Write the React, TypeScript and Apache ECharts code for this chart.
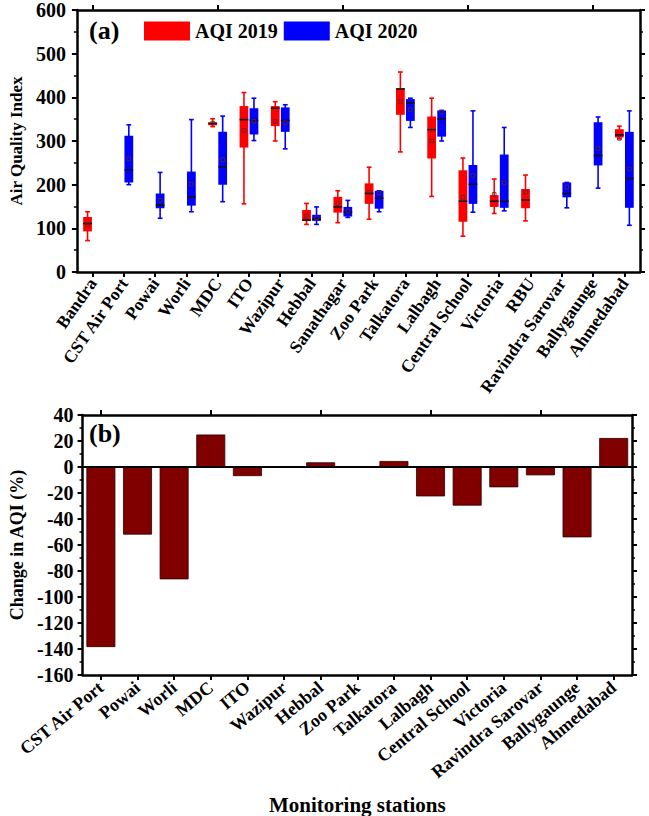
import React, { useEffect, useRef } from "react";
import * as echarts from "echarts";

const stations = [
  "Bandra", "CST Air Port", "Powai", "Worli", "MDC", "ITO", "Wazipur", "Hebbal",
  "Sanathagar", "Zoo Park", "Talkatora", "Lalbagh", "Central School", "Victoria",
  "RBU", "Ravindra Sarovar", "Ballygaunge", "Ahmedabad",
];

// [min, q1, median, q3, max, mean]; null = no data
const aqi2019: (number[] | null)[] = [
  [72, 93, 111, 126, 138, 108],
  null,
  null,
  null,
  [333, 336, 340, 343, 351, 341],
  [156, 285, 349, 380, 411, 324],
  [300, 334, 375, 380, 390, 345],
  [109, 117, 119, 142, 157, 128],
  [113, 136, 149, 172, 186, 156],
  [121, 156, 180, 203, 240, 182],
  [275, 360, 419, 421, 458, 390],
  [173, 260, 326, 356, 398, 300],
  [82, 115, 162, 233, 261, 171],
  [134, 149, 162, 176, 213, 178],
  [117, 146, 165, 190, 222, 183],
  null,
  null,
  [305, 308, 314, 327, 334, 306],
];

const aqi2020: (number[] | null)[] = [
  null,
  [200, 205, 234, 312, 337, 259],
  [123, 146, 153, 180, 228, 164],
  [138, 152, 172, 230, 349, 201],
  [161, 200, 241, 321, 357, 257],
  [301, 315, 347, 375, 398, 345],
  [282, 321, 347, 377, 383, 342],
  [109, 117, 121, 131, 149, 124],
  [125, 127, 137, 149, 164, 140],
  [138, 145, 169, 186, 186, 181],
  [331, 346, 387, 396, 398, 372],
  [300, 310, 351, 370, 370, 366],
  [137, 156, 201, 245, 369, 221],
  [140, 147, 162, 269, 331, 204],
  null,
  [147, 171, 180, 205, 205, 195],
  [192, 244, 267, 343, 355, 283],
  [107, 147, 214, 321, 369, 236],
];

const changeStations = [
  "CST Air Port", "Powai", "Worli", "MDC", "ITO", "Wazipur", "Hebbal", "Zoo Park",
  "Talkatora", "Lalbagh", "Central School", "Victoria", "Ravindra Sarovar",
  "Ballygaunge", "Ahmedabad",
];
const changeValues = [-138.5, -52, -86.4, 25, -7, 0, 3.6, 0, 4.6, -22.6, -29.7, -15.6, -6.4, -54.1, 22.3];

const aqiTicks = { min: 0, max: 600, interval: 100 };
const changeTicks = { min: -160, max: 40, interval: 20 };

const FONT = "'Liberation Serif', 'Times New Roman', serif";

function toItems(arr: (number[] | null)[]) {
  const out: number[][] = [];
  arr.forEach((v, i) => {
    if (v) out.push([i, ...v]);
  });
  return out;
}

function makeRender(color: string, side: number) {
  return (params: any, api: any) => {
    const x = api.value(0);
    const v = [1, 2, 3, 4, 5, 6].map((i) => api.value(i));
    const band = api.size([1, 0])[0];
    const w = band * 0.28;
    const off = side * band * 0.16;
    const y = (val: number) => api.coord([x, val])[1];
    const cx = api.coord([x, v[0]])[0] + off;
    const yMin = y(v[0]);
    const yQ1 = y(v[1]);
    const yMed = y(v[2]);
    const yQ3 = y(v[3]);
    const yMax = y(v[4]);
    const yMean = y(v[5]);
    const cap = w * 0.55;
    return {
      type: "group",
      children: [
        { type: "line", shape: { x1: cx, y1: yMin, x2: cx, y2: yMax }, style: { stroke: color, lineWidth: 1.6 } },
        { type: "line", shape: { x1: cx - cap / 2, y1: yMax, x2: cx + cap / 2, y2: yMax }, style: { stroke: color, lineWidth: 1.6 } },
        { type: "line", shape: { x1: cx - cap / 2, y1: yMin, x2: cx + cap / 2, y2: yMin }, style: { stroke: color, lineWidth: 1.6 } },
        { type: "rect", shape: { x: cx - w / 2, y: yQ3, width: w, height: Math.max(yQ1 - yQ3, 1) }, style: { fill: color } },
        { type: "line", shape: { x1: cx - w / 2, y1: yMed, x2: cx + w / 2, y2: yMed }, style: { stroke: "#111", lineWidth: 1.6 } },
        { type: "rect", shape: { x: cx - 1.8, y: yMean - 1.8, width: 3.6, height: 3.6 }, style: { fill: "none", stroke: "#5a2a2a", lineWidth: 0.8 } },
      ],
    };
  };
}

const axisLineStyle = (w: number) => ({ show: true, onZero: false, lineStyle: { color: "#000", width: w } });
const tickStyle = (w: number, len: number) => ({ show: true, alignWithLabel: true, length: len, lineStyle: { color: "#000", width: w } });

export default function App() {
  const ref = useRef<HTMLDivElement>(null);
  useEffect(() => {
    if (!ref.current) return;
    const chart = echarts.init(ref.current, null, { renderer: "svg" });
    const option: any = {
      animation: false,
      backgroundColor: "#fff",
      textStyle: { fontFamily: FONT },
      grid: [
        { left: 65, top: 7, width: 575, height: 265 },
        { left: 81, top: 415, width: 551, height: 260 },
      ],
      legend: {
        left: 144,
        top: 21,
        padding: 0,
        itemWidth: 46,
        itemHeight: 19,
        itemGap: 6,
        data: [
          { name: "AQI 2019", icon: "rect" },
          { name: "AQI 2020", icon: "rect" },
        ],
        textStyle: { fontFamily: FONT, fontWeight: "bold", fontSize: 20, color: "#000" },
      },
      graphic: [
        { type: "text", left: 89, top: 17, style: { text: "(a)", font: `bold 26px ${FONT}`, fill: "#000" } },
        { type: "text", left: 89, top: 420, style: { text: "(b)", font: `bold 26px ${FONT}`, fill: "#000" } },
      ],
      xAxis: [
        {
          type: "category",
          gridIndex: 0,
          data: stations,
          position: "bottom",
          axisLine: axisLineStyle(2.5),
          axisTick: tickStyle(2, 5),
          axisLabel: { rotate: 55, margin: 8, fontFamily: FONT, fontWeight: "bold", fontSize: 17.5, color: "#000", interval: 0 },
        },
        {
          type: "category",
          gridIndex: 0,
          data: stations,
          position: "top",
          axisLine: axisLineStyle(2.5),
          axisTick: tickStyle(2, 5),
          axisLabel: { show: false },
        },
        {
          type: "category",
          gridIndex: 1,
          data: changeStations,
          position: "bottom",
          axisLine: axisLineStyle(2.5),
          axisTick: tickStyle(2, 5),
          axisLabel: { rotate: 40, margin: 10, fontFamily: FONT, fontWeight: "bold", fontSize: 18, color: "#000", interval: 0 },
          name: "Monitoring stations",
          nameLocation: "middle",
          nameGap: 119,
          nameTextStyle: { fontFamily: FONT, fontWeight: "bold", fontSize: 21, color: "#000" },
        },
        {
          type: "category",
          gridIndex: 1,
          data: changeStations,
          position: "top",
          axisLine: axisLineStyle(2.5),
          axisTick: tickStyle(2, 5),
          axisLabel: { show: false },
        },
      ],
      yAxis: [
        {
          type: "value",
          gridIndex: 0,
          position: "left",
          ...aqiTicks,
          axisLine: axisLineStyle(2.5),
          axisTick: { show: true, length: 5, lineStyle: { color: "#000", width: 2 } },
          minorTick: { show: true, splitNumber: 2, length: 3, lineStyle: { color: "#000", width: 1.5 } },
          splitLine: { show: false },
          axisLabel: { margin: 11, fontFamily: FONT, fontWeight: "bold", fontSize: 20, color: "#000" },
          name: "Air Quality Index",
          nameLocation: "middle",
          nameGap: 49,
          nameTextStyle: { fontFamily: FONT, fontWeight: "bold", fontSize: 17, color: "#000" },
        },
        {
          type: "value",
          gridIndex: 0,
          position: "right",
          ...aqiTicks,
          axisLine: axisLineStyle(2.5),
          axisTick: { show: true, length: 5, lineStyle: { color: "#000", width: 2 } },
          minorTick: { show: true, splitNumber: 2, length: 3, lineStyle: { color: "#000", width: 1.5 } },
          splitLine: { show: false },
          axisLabel: { show: false },
        },
        {
          type: "value",
          gridIndex: 1,
          position: "left",
          ...changeTicks,
          axisLine: axisLineStyle(2.5),
          axisTick: { show: true, length: 5, lineStyle: { color: "#000", width: 2 } },
          minorTick: { show: true, splitNumber: 2, length: 3, lineStyle: { color: "#000", width: 1.5 } },
          splitLine: { show: false },
          axisLabel: { margin: 9, fontFamily: FONT, fontWeight: "bold", fontSize: 20, color: "#000" },
          name: "Change in AQI (%)",
          nameLocation: "middle",
          nameGap: 50,
          nameTextStyle: { fontFamily: FONT, fontWeight: "bold", fontSize: 18, color: "#000" },
        },
        {
          type: "value",
          gridIndex: 1,
          position: "right",
          ...changeTicks,
          axisLine: axisLineStyle(2.5),
          axisTick: { show: true, length: 5, lineStyle: { color: "#000", width: 2 } },
          minorTick: { show: true, splitNumber: 2, length: 3, lineStyle: { color: "#000", width: 1.5 } },
          splitLine: { show: false },
          axisLabel: { show: false },
        },
      ],
      series: [
        {
          name: "AQI 2019",
          type: "custom",
          xAxisIndex: 0,
          yAxisIndex: 0,
          itemStyle: { color: "#ff0000" },
          renderItem: makeRender("#ff0000", -1),
          encode: { x: 0, y: [1, 2, 3, 4, 5, 6] },
          data: toItems(aqi2019),
        },
        {
          name: "AQI 2020",
          type: "custom",
          xAxisIndex: 0,
          yAxisIndex: 0,
          itemStyle: { color: "#0000ff" },
          renderItem: makeRender("#0000ff", 1),
          encode: { x: 0, y: [1, 2, 3, 4, 5, 6] },
          data: toItems(aqi2020),
        },
        {
          name: "Change",
          type: "bar",
          xAxisIndex: 2,
          yAxisIndex: 2,
          barWidth: "79%",
          itemStyle: { color: "#800000", borderColor: "#2a0000", borderWidth: 0.8 },
          data: changeValues,
          markLine: {
            silent: true,
            symbol: "none",
            label: { show: false },
            lineStyle: { color: "#000", width: 2, type: "solid" },
            data: [{ yAxis: 0 }],
          },
        },
      ],
    };
    chart.setOption(option);
    return () => chart.dispose();
  }, []);
  return (
    <div
      ref={ref}
      style={{ position: "fixed", left: 0, top: 0, width: 649, height: 816, background: "#fff" }}
    />
  );
}
